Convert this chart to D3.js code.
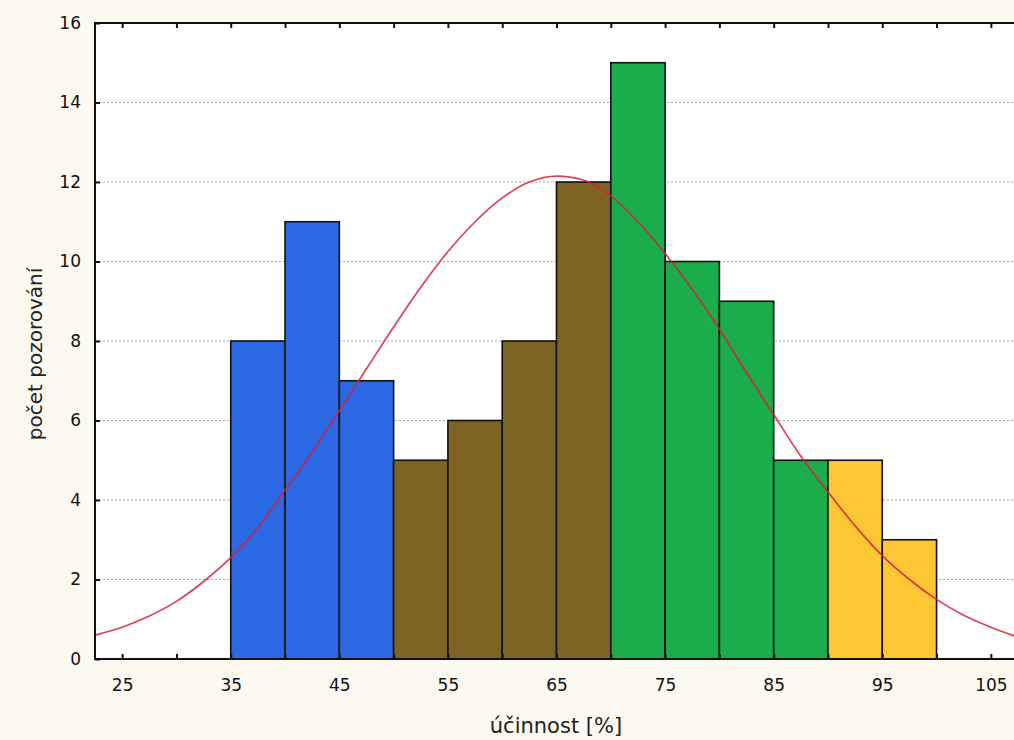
<!DOCTYPE html>
<html>
<head>
<meta charset="utf-8">
<script src="https://cdn.jsdelivr.net/npm/d3@7"></script>
<style>
  html, body { margin: 0; padding: 0; background: #fcf9f0; }
  svg { display: block; }
</style>
</head>
<body>
<svg id="chart" width="1014" height="740"></svg>
<script>
// Histogram bins of efficiency [%] (bin start, count, group)
const binStarts = [35, 40, 45, 50, 55, 60, 65, 70, 75, 80, 85, 90, 95];
const binWidth = 5;
const counts = [8, 11, 7, 5, 6, 8, 12, 15, 10, 9, 5, 5, 3];
const groups = ["a", "a", "a", "b", "b", "b", "b", "c", "c", "c", "c", "d", "d"];
const groupColors = { a: "#2b69e4", b: "#7e6422", c: "#1bad4c", d: "#fdc733" };

// Fitted normal curve, sampled along the x axis
const curveX = [22.5, 25, 27.5, 30, 32.5, 35, 37.5, 40, 42.5, 45, 47.5, 50, 52.5, 55, 57.5, 60, 62.5, 65, 67.5, 70, 72.5, 75, 77.5, 80, 82.5, 85, 87.5, 90, 92.5, 95, 97.5, 100, 102.5, 105, 107.5];
const curveY = [0.60, 0.80, 1.08, 1.45, 1.95, 2.55, 3.30, 4.25, 5.20, 6.25, 7.30, 8.35, 9.35, 10.25, 11.00, 11.60, 12.00, 12.15, 12.05, 11.65, 11.00, 10.20, 9.30, 8.30, 7.20, 6.15, 5.10, 4.20, 3.35, 2.60, 2.00, 1.50, 1.10, 0.80, 0.55];

// Axis ticks
const xLabelTicks = [25, 35, 45, 55, 65, 75, 85, 95, 105];
const xMinorTicks = [25, 30, 35, 40, 45, 50, 55, 60, 65, 70, 75, 80, 85, 90, 95, 100, 105];
const yTicks = [0, 2, 4, 6, 8, 10, 12, 14, 16];

const xTitle = "účinnost [%]";
const yTitle = "počet pozorování";

(function () {
  const svg = d3.select("#chart");
  const W = 1014;
  const pLeft = 95, pTop = 23, pBottom = 659, pRight = 1018;

  const x = d3.scaleLinear().domain([22.5, 107.5]).range([pLeft, pRight]);
  const y = d3.scaleLinear().domain([0, 16]).range([pBottom, pTop]);

  const font = "'DejaVu Sans', Arial, sans-serif";

  // Plot area background
  svg.append("rect")
    .attr("x", pLeft).attr("y", pTop)
    .attr("width", W - pLeft).attr("height", pBottom - pTop)
    .attr("fill", "#ffffff");

  // Horizontal dotted gridlines
  svg.append("g")
    .selectAll("line")
    .data(yTicks.filter(d => d > 0 && d < 16))
    .join("line")
    .attr("x1", pLeft).attr("x2", W)
    .attr("y1", d => y(d)).attr("y2", d => y(d))
    .attr("stroke", "#a8a8a8")
    .attr("stroke-width", 1)
    .attr("stroke-dasharray", "2,2");

  // Bars
  const bins = binStarts.map((s, i) => ({ x0: s, x1: s + binWidth, n: counts[i], g: groups[i] }));
  svg.append("g")
    .selectAll("rect")
    .data(bins)
    .join("rect")
    .attr("x", d => x(d.x0))
    .attr("y", d => y(d.n))
    .attr("width", d => x(d.x1) - x(d.x0))
    .attr("height", d => y(0) - y(d.n))
    .attr("fill", d => groupColors[d.g])
    .attr("stroke", "#111111")
    .attr("stroke-width", 1.6);

  // Normal curve
  const pts = curveX.map((v, i) => [v, curveY[i]]);
  svg.append("path")
    .datum(pts)
    .attr("fill", "none")
    .attr("stroke", "#d8203a")
    .attr("stroke-opacity", 0.85)
    .attr("stroke-width", 1.7)
    .attr("d", d3.line().x(d => x(d[0])).y(d => y(d[1])).curve(d3.curveMonotoneX));

  // Axes
  const axisG = svg.append("g");

  // Bottom axis: inward ticks every 5, labels every 10
  const xAxisBottom = d3.axisBottom(x).tickValues(xMinorTicks).tickSizeInner(-5).tickSizeOuter(0)
    .tickFormat(d => xLabelTicks.includes(d) ? d3.format("d")(d) : "").tickPadding(20);
  const gb = axisG.append("g").attr("transform", `translate(0,${pBottom})`).call(xAxisBottom);
  gb.select(".domain").remove();
  gb.selectAll(".tick line").attr("stroke", "#111").attr("stroke-width", 2);
  gb.selectAll(".tick text").attr("font-family", font).attr("font-size", 17).attr("fill", "#111");

  // Top axis: inward ticks only
  const xAxisTop = d3.axisTop(x).tickValues(xMinorTicks).tickSizeInner(-5).tickSizeOuter(0).tickFormat("");
  const gt = axisG.append("g").attr("transform", `translate(0,${pTop})`).call(xAxisTop);
  gt.select(".domain").remove();
  gt.selectAll(".tick line").attr("stroke", "#111").attr("stroke-width", 2);

  // Left axis
  const yAxis = d3.axisLeft(y).tickValues(yTicks).tickSizeInner(-5).tickSizeOuter(0).tickPadding(14);
  const gl = axisG.append("g").attr("transform", `translate(${pLeft},0)`).call(yAxis);
  gl.select(".domain").remove();
  gl.selectAll(".tick line").attr("stroke", "#111").attr("stroke-width", 2);
  gl.selectAll(".tick text").attr("font-family", font).attr("font-size", 17).attr("fill", "#111");

  // Frame lines
  axisG.append("line").attr("x1", pLeft).attr("x2", W).attr("y1", pTop).attr("y2", pTop)
    .attr("stroke", "#111").attr("stroke-width", 2);
  axisG.append("line").attr("x1", pLeft).attr("x2", W).attr("y1", pBottom).attr("y2", pBottom)
    .attr("stroke", "#111").attr("stroke-width", 2);
  axisG.append("line").attr("x1", pLeft).attr("x2", pLeft).attr("y1", pTop - 1).attr("y2", pBottom + 1)
    .attr("stroke", "#111").attr("stroke-width", 2);

  // Axis titles
  svg.append("text")
    .attr("x", 556).attr("y", 733)
    .attr("text-anchor", "middle")
    .attr("font-family", font).attr("font-size", 21).attr("fill", "#222")
    .text(xTitle);

  svg.append("text")
    .attr("transform", "translate(42,354) rotate(-90)")
    .attr("text-anchor", "middle")
    .attr("font-family", font).attr("font-size", 20).attr("fill", "#222")
    .text(yTitle);
})();
</script>
</body>
</html>
